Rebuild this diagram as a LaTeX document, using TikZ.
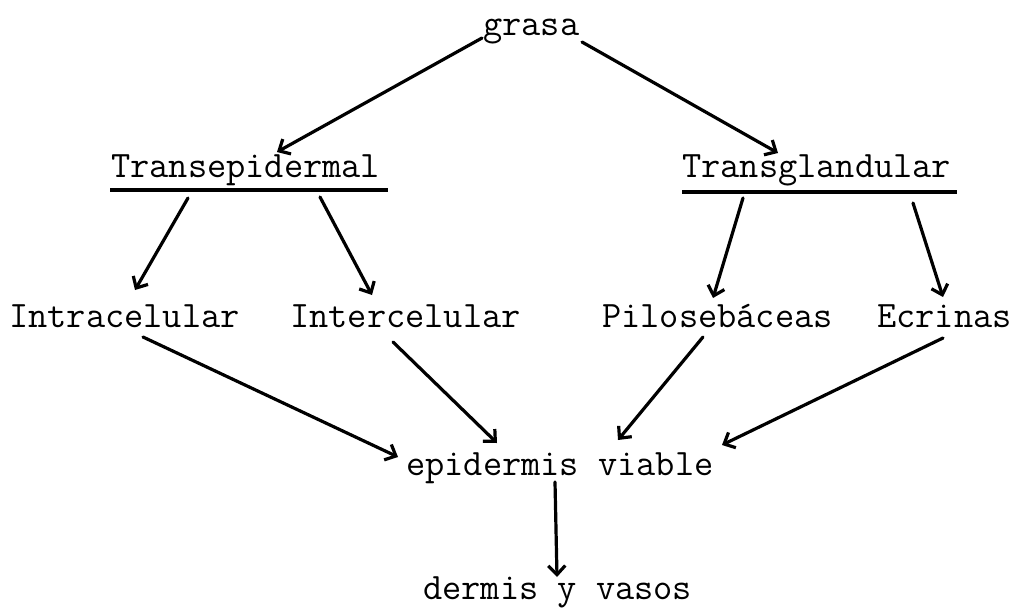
\documentclass[tikz,border=0pt]{standalone}
\usetikzlibrary{arrows.meta}
\tikzset{
  lbl/.style={font=\ttfamily\fontsize{37.3}{40}\selectfont, inner sep=0pt, anchor=base west, text=black},
  conn/.style={line width=3.2pt, -{Straight Barb[length=9pt,width=17pt,line width=3.2pt]}, line cap=round},
  uline/.style={line width=3.4pt}
}
\begin{document}
\begin{tikzpicture}[x=1pt,y=-1pt]
\useasboundingbox (0,0) rectangle (1016,608);
\node[lbl] (grasa) at (483,35) {grasa};
\node[lbl] (tepi) at (111,177) {Transepidermal};
\node[lbl] (tgla) at (682,177) {Transglandular};
\node[lbl] (intra) at (9,327) {Intracelular};
\node[lbl] (inter) at (290,327) {Intercelular};
\node[lbl] (pilo) at (602,327) {Pilosebáceas};
\node[lbl] (ecr) at (877,327) {Ecrinas};
\node[lbl] (epi) at (406,475) {epidermis viable};
\node[lbl] (der) at (423,599) {dermis y vasos};
% underlines
\draw[uline] ([shift={(-1,13)}]tepi.base west) -- ([shift={(277,13)}]tepi.base west);
\draw[uline] ([shift={(0,15)}]tgla.base west) -- ([shift={(275,15)}]tgla.base west);
% connectors
\draw[conn] ([shift={(-1,3)}]grasa.base west) -- ([shift={(166,-25)}]tepi.base west);
\draw[conn] ([shift={(99,7)}]grasa.base west) -- ([shift={(96,-24)}]tgla.base west);
\draw[conn] ([shift={(77,21)}]tepi.base west) -- ([shift={(126,-37)}]intra.base west);
\draw[conn] ([shift={(209,20)}]tepi.base west) -- ([shift={(82,-32)}]inter.base west);
\draw[conn] ([shift={(61,21)}]tgla.base west) -- ([shift={(111,-29)}]pilo.base west);
\draw[conn] ([shift={(231,26)}]tgla.base west) -- ([shift={(66,-30)}]ecr.base west);
\draw[conn] ([shift={(134,10)}]intra.base west) -- ([shift={(-8,-18)}]epi.base west);
\draw[conn] ([shift={(103,15)}]inter.base west) -- ([shift={(91,-32)}]epi.base west);
\draw[conn] ([shift={(101,10)}]pilo.base west) -- ([shift={(212,-35)}]epi.base west);
\draw[conn] ([shift={(66,11)}]ecr.base west) -- ([shift={(316,-30)}]epi.base west);
\draw[conn] ([shift={(149,7)}]epi.base west) -- ([shift={(134,-22)}]der.base west);
\end{tikzpicture}
\end{document}
